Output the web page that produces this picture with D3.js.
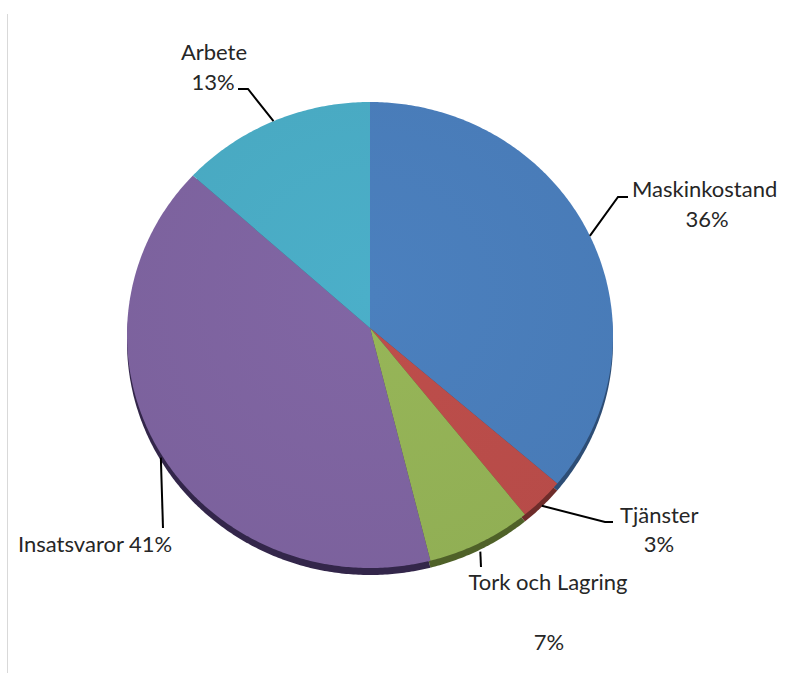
<!DOCTYPE html>
<html>
<head>
<meta charset="utf-8">
<script src="https://cdn.jsdelivr.net/npm/d3@7"></script>
<style>
  html, body { margin: 0; padding: 0; background: #fff; }
  svg text { font-family: Lato, "Open Sans", sans-serif; fill: #262626; font-size: 22px; }
</style>
</head>
<body>
<svg id="chart" width="786" height="673"></svg>
<script>
// Cost shares (percent) in drawing order, clockwise from 12 o'clock
const categories = ["Maskinkostand", "Tjänster", "Tork och Lagring", "Insatsvaror", "Arbete"];
const values = [36, 3, 7, 41, 13];
const faceColors = ["#4a7ebb", "#bb4d4a", "#94b356", "#7f64a1", "#4aacc5"];
const sideColors = ["#2d4d75", "#6e2c2a", "#4f6128", "#33264a", "#2a6677"];

const svg = d3.select("#chart");
const W = 786, H = 673;

// Thin frame line on the left
svg.append("line")
  .attr("x1", 7.5).attr("x2", 7.5).attr("y1", 14).attr("y2", H)
  .attr("stroke", "#d9d9d9").attr("stroke-width", 1);

// Slightly flattened pie: ellipse with apex offset upward (tilted view)
const cx = 370, cy = 335, rx = 243, ry = 233, depth = 7;
const apex = [370, 328];

const pie = d3.pie().sort(null).value(d => d)
  .startAngle(0).endAngle(2 * Math.PI);
const arcs = pie(values);

const pt = (a, dy = 0) => [cx + rx * Math.sin(a), cy + dy - ry * Math.cos(a)];

function slicePath(d, dy = 0) {
  const p = d3.path();
  p.moveTo(apex[0], apex[1] + dy);
  const n = Math.max(4, Math.ceil((d.endAngle - d.startAngle) / 0.01));
  for (let i = 0; i <= n; i++) {
    const a = d.startAngle + (d.endAngle - d.startAngle) * i / n;
    const [x, y] = pt(a, dy);
    p.lineTo(x, y);
  }
  p.closePath();
  return p.toString();
}

// Side band (visible below the top face)
svg.append("g").selectAll("path")
  .data(arcs).join("path")
  .attr("d", d => slicePath(d, depth))
  .attr("fill", (d, i) => sideColors[i]);

// Top face with a faint radial shading
const defs = svg.append("defs");
faceColors.forEach((c, i) => {
  const g = defs.append("radialGradient")
    .attr("id", "g" + i)
    .attr("gradientUnits", "userSpaceOnUse")
    .attr("cx", cx).attr("cy", cy - 40).attr("r", 320);
  g.append("stop").attr("offset", "0%").attr("stop-color", d3.color(c).brighter(0.05));
  g.append("stop").attr("offset", "100%").attr("stop-color", d3.color(c).darker(0.08));
});

svg.append("g").selectAll("path")
  .data(arcs).join("path")
  .attr("d", d => slicePath(d))
  .attr("fill", (d, i) => `url(#g${i})`);

// Leader lines: from slice mid-angle edge point through an elbow to the label
const elbows = [
  [[618, 197], [628, 197]],
  [[605, 522], [613, 522]],
  [[481, 567]],
  [[163, 528]],
  [[248, 89], [238, 89]]
];
const edgeOffset = [0, 6, 9, 4, 0];

const leader = d3.line();
arcs.forEach((d, i) => {
  const mid = (d.startAngle + d.endAngle) / 2;
  const start = pt(mid, edgeOffset[i]);
  svg.append("path")
    .attr("d", leader([start, ...elbows[i]]))
    .attr("fill", "none")
    .attr("stroke", "#000")
    .attr("stroke-width", 2);
});

// Data labels: category name and percentage
const fmt = v => v + "%";
const labelLines = [
  [{ t: categories[0], x: 632, y: 197, a: "start" }, { t: fmt(values[0]), x: 707, y: 227, a: "middle" }],
  [{ t: categories[1], x: 620, y: 523, a: "start" }, { t: fmt(values[1]), x: 659, y: 552, a: "middle" }],
  [{ t: categories[2], x: 548, y: 590, a: "middle" }, { t: fmt(values[2]), x: 549, y: 650, a: "middle" }],
  [{ t: categories[3] + " " + fmt(values[3]), x: 18, y: 552, a: "start" }],
  [{ t: categories[4], x: 214, y: 60, a: "middle" }, { t: fmt(values[4]), x: 213, y: 90, a: "middle" }]
];

svg.append("g").selectAll("text")
  .data(labelLines.flat()).join("text")
  .attr("x", d => d.x)
  .attr("y", d => d.y)
  .attr("text-anchor", d => d.a)
  .text(d => d.t);
</script>
</body>
</html>
